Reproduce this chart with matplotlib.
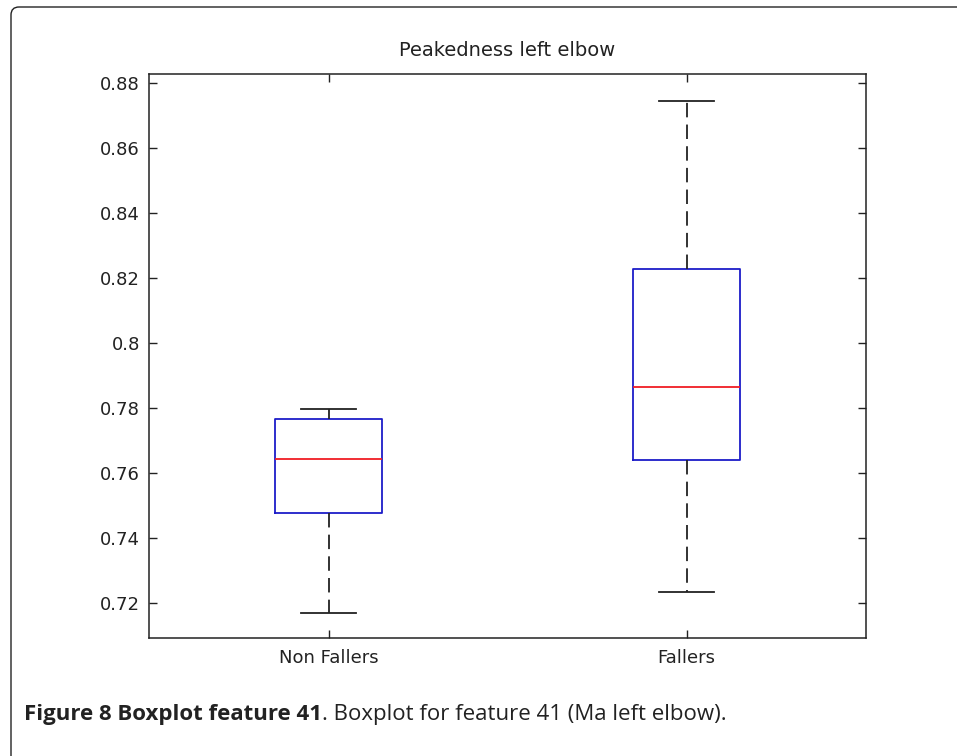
import matplotlib
matplotlib.use("Agg")
import matplotlib.pyplot as plt
from matplotlib.patches import FancyBboxPatch
from matplotlib.transforms import IdentityTransform

# values
groups = ["Non Fallers", "Fallers"]
whisker_low = [0.7169, 0.7235]
q1 = [0.7478, 0.7640]
medians = [0.7644, 0.7865]
q3 = [0.7766, 0.8226]
whisker_high = [0.7797, 0.8743]

y_ticks = [0.72, 0.74, 0.76, 0.78, 0.80, 0.82, 0.84, 0.86, 0.88]
y_tick_labels = ["0.72", "0.74", "0.76", "0.78", "0.8", "0.82", "0.84", "0.86", "0.88"]

title = "Peakedness left elbow"
caption_bold = "Figure 8 Boxplot feature 41"
caption_rest = ". Boxplot for feature 41 (Ma left elbow)."

fig = plt.figure(figsize=(9.57, 7.56), dpi=100)
ax = fig.add_axes([0.1562, 0.1561, 0.7484, 0.7454])

stats = []
for i, name in enumerate(groups):
    stats.append({
        "label": name,
        "whislo": whisker_low[i],
        "q1": q1[i],
        "med": medians[i],
        "q3": q3[i],
        "whishi": whisker_high[i],
        "fliers": [],
    })

ax.bxp(stats, positions=[1, 2], widths=0.30, capwidths=0.155,
       showfliers=False,
       boxprops=dict(color="#1c1cc8", linewidth=1.3),
       medianprops=dict(color="#f01c24", linewidth=1.3),
       whiskerprops=dict(color="#222222", linewidth=1.3, linestyle=(0, (8, 4))),
       capprops=dict(color="#222222", linewidth=1.3))

ax.set_xlim(0.5, 2.5)
ax.set_ylim(0.7093, 0.8825)
ax.set_yticks(y_ticks)
ax.set_yticklabels(y_tick_labels)
ax.set_xticks([1, 2])
ax.set_xticklabels(groups)

ax.tick_params(direction="in", top=True, right=True, length=6, width=1.0,
               labelsize=13, colors="#222222")
ax.tick_params(axis="x", pad=8)
ax.tick_params(axis="y", pad=7)
for sp in ax.spines.values():
    sp.set_linewidth(1.1)
    sp.set_color("#222222")

ax.set_title(title, fontsize=14, pad=13, color="#222222")

# rounded frame around the figure panel (only top and left edges visible)
frame = FancyBboxPatch((11, -40), 1000, 789, boxstyle="round,pad=0,rounding_size=8",
                       transform=IdentityTransform(), fill=False,
                       edgecolor="#222222", linewidth=1.0)
fig.patches.append(frame)

# caption: bold lead then regular text
cap_y = 1 - 720 / 756
t1 = fig.text(24 / 957, cap_y, caption_bold, fontsize=16, fontweight="bold",
              family="Open Sans", color="#222222", va="baseline")
fig.canvas.draw()
bb = t1.get_window_extent()
fig.text(bb.x1 / 957, cap_y, caption_rest, fontsize=16,
         family="Open Sans", color="#222222", va="baseline")

fig.savefig("out.png", dpi=100)
